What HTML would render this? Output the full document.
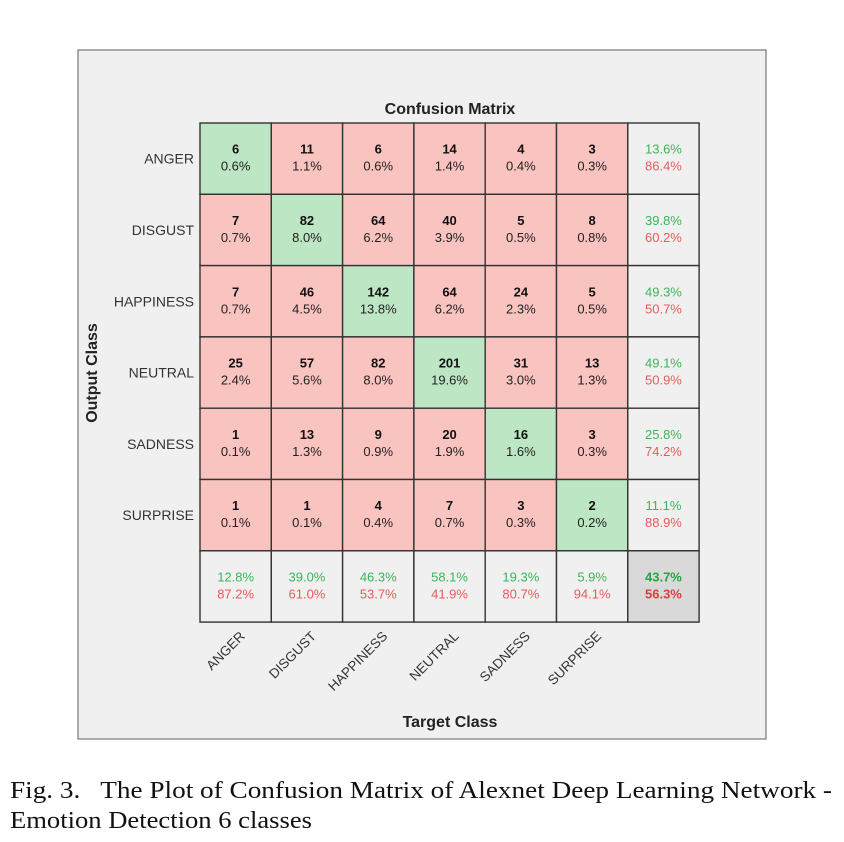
<!DOCTYPE html>
<html><head><meta charset="utf-8"><style>
body{margin:0;background:#fff;width:844px;height:842px;overflow:hidden}
svg{display:block}
</style></head><body>
<svg width="844" height="842" font-family="Liberation Sans, Arial, sans-serif">
<rect x="78" y="50" width="688" height="689" fill="#f0f0f0" stroke="#777" stroke-width="1.2"/>
<text x="450" y="114" text-anchor="middle" font-size="16" font-weight="bold" fill="#222">Confusion Matrix</text>
<g id="mat"></g>
<text x="450" y="727" text-anchor="middle" font-size="16" font-weight="bold" fill="#222">Target Class</text>
<text transform="translate(97,373) rotate(-90)" text-anchor="middle" font-size="16" font-weight="bold" fill="#222">Output Class</text>
<text x="10" y="798" font-family="Liberation Serif, serif" font-size="24" textLength="822" lengthAdjust="spacingAndGlyphs" fill="#111">Fig. 3.&#160;&#160; The Plot of Confusion Matrix of Alexnet Deep Learning Network -</text>
<text x="10" y="828" font-family="Liberation Serif, serif" font-size="24" textLength="302" lengthAdjust="spacingAndGlyphs" fill="#111">Emotion Detection 6 classes</text>
</svg>
<script>
const classes=["ANGER","DISGUST","HAPPINESS","NEUTRAL","SADNESS","SURPRISE"];
const counts=[[6,11,6,14,4,3],[7,82,64,40,5,8],[7,46,142,64,24,5],[25,57,82,201,31,13],[1,13,9,20,16,3],[1,1,4,7,3,2]];
const pcts=[["0.6%","1.1%","0.6%","1.4%","0.4%","0.3%"],["0.7%","8.0%","6.2%","3.9%","0.5%","0.8%"],["0.7%","4.5%","13.8%","6.2%","2.3%","0.5%"],["2.4%","5.6%","8.0%","19.6%","3.0%","1.3%"],["0.1%","1.3%","0.9%","1.9%","1.6%","0.3%"],["0.1%","0.1%","0.4%","0.7%","0.3%","0.2%"]];
const rowGood=["13.6%","39.8%","49.3%","49.1%","25.8%","11.1%"];
const rowBad=["86.4%","60.2%","50.7%","50.9%","74.2%","88.9%"];
const colGood=["12.8%","39.0%","46.3%","58.1%","19.3%","5.9%"];
const colBad=["87.2%","61.0%","53.7%","41.9%","80.7%","94.1%"];
const totalGood="43.7%", totalBad="56.3%";
const X0=200,Y0=123,C=71.3;
const NS="http://www.w3.org/2000/svg";
const g=document.getElementById('mat');
function el(t,a,txt){const e=document.createElementNS(NS,t);for(const k in a)e.setAttribute(k,a[k]);if(txt!==undefined)e.textContent=txt;g.appendChild(e);return e;}
const cx=i=>X0+i*C, cy=j=>Y0+j*C;
for(let r=0;r<7;r++)for(let c=0;c<7;c++){
  let fill;
  if(r==6&&c==6)fill="#d9d9d9";else if(r==6||c==6)fill="#f0f0f0";else fill=(r==c)?"#bde6c4":"#f9c3c0";
  const rc=el('rect',{x:cx(c),y:cy(r),width:C,height:C,fill:fill,stroke:"#333","stroke-width":1.4});
  
  
  const mx=cx(c)+C/2,my=cy(r)+C/2;
  if(r<6&&c<6){
    const t1=el('text',{x:mx,y:my-5,"text-anchor":"middle","font-size":13,"font-weight":"bold",fill:"#111"},counts[r][c]);
    
    
    const t2=el('text',{x:mx,y:my+12,"text-anchor":"middle","font-size":13,fill:"#222"},pcts[r][c]);
    
    
  }else{
    let a,b,bold=false;
    if(r==6&&c==6){a=totalGood;b=totalBad;bold=true;}else if(c==6){a=rowGood[r];b=rowBad[r];}else{a=colGood[c];b=colBad[c];}
    const t1=el('text',{x:mx,y:my-5,"text-anchor":"middle","font-size":13,"font-weight":bold?"bold":"normal",fill:bold?"#22a640":"#3cb55a"},a);
    
    
    const t2=el('text',{x:mx,y:my+12,"text-anchor":"middle","font-size":13,"font-weight":bold?"bold":"normal",fill:bold?"#e03c3c":"#e85a5a"},b);
    
    
  }
}
classes.forEach((n,i)=>{
  const t=el('text',{x:X0-6,y:cy(i)+C/2+5,"text-anchor":"end","font-size":14,fill:"#333"},n);
  
  
  const ex=cx(i)+C/2+10,ey=637;
  const u=el('text',{x:0,y:0,transform:`translate(${ex},${ey}) rotate(-45)`,"text-anchor":"end","font-size":13.5,fill:"#333"},n);
  
  
});
</script>
</body></html>
